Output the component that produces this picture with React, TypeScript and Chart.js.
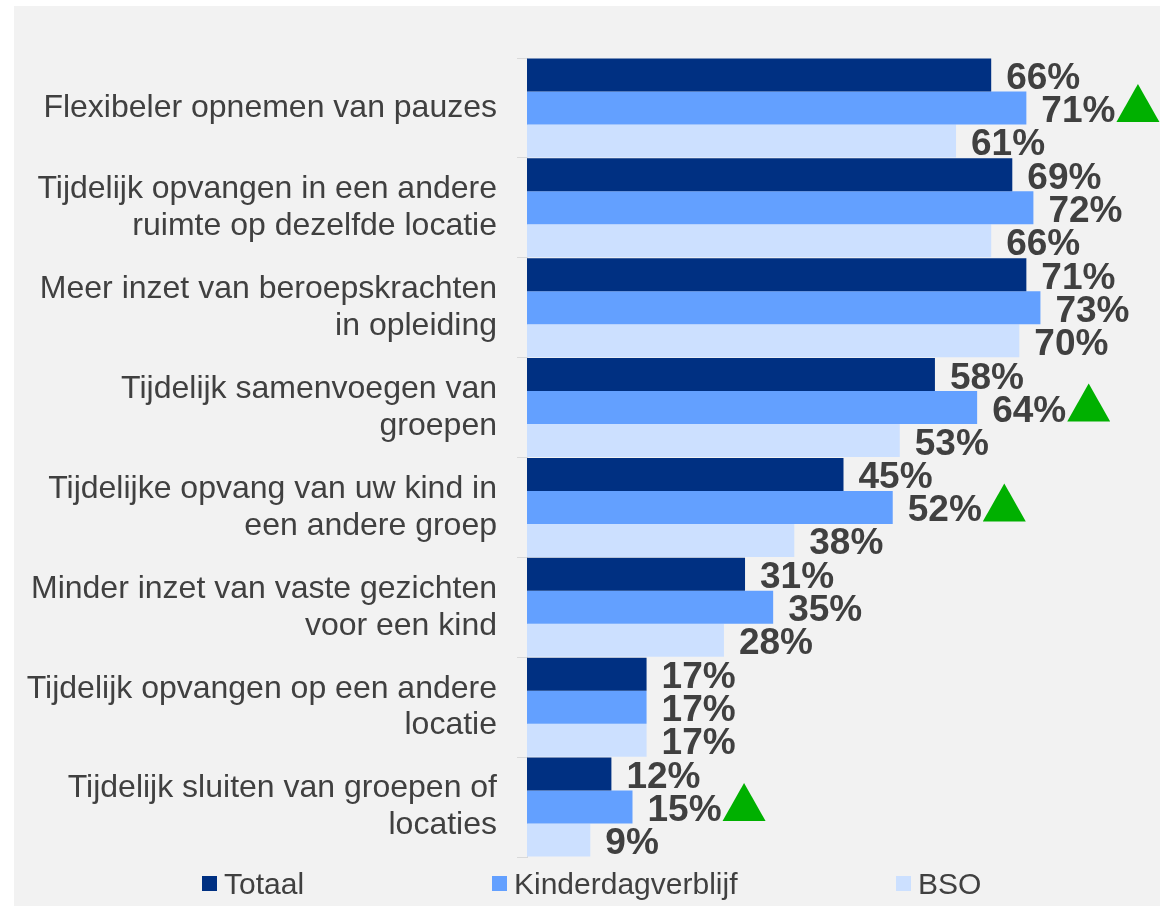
import React, { useEffect, useRef } from 'react';
import { Chart, registerables } from 'chart.js';
Chart.register(...registerables);

const categories: (string | string[])[] = [
  'Flexibeler opnemen van pauzes',
  ['Tijdelijk opvangen in een andere', 'ruimte op dezelfde locatie'],
  ['Meer inzet van beroepskrachten', 'in opleiding'],
  ['Tijdelijk samenvoegen van', 'groepen'],
  ['Tijdelijke opvang van uw kind in', 'een andere groep'],
  ['Minder inzet van vaste gezichten', 'voor een kind'],
  ['Tijdelijk opvangen op een andere', 'locatie'],
  ['Tijdelijk sluiten van groepen of', 'locaties'],
];
const totaal = [66, 69, 71, 58, 45, 31, 17, 12];
const kinderdagverblijf = [71, 72, 73, 64, 52, 35, 17, 15];
const bso = [61, 66, 70, 53, 38, 28, 17, 9];
const kdvSignificantUp = [true, false, false, true, true, false, false, true];
const seriesNames = ['Totaal', 'Kinderdagverblijf', 'BSO'];
const seriesColors = ['#003082', '#63a0ff', '#cce0ff'];
const legendPositions = [202, 492, 896];

const FONT = '"Liberation Sans", Arial, Helvetica, sans-serif';

const panelPlugin = {
  id: 'panelBg',
  beforeDraw(chart: any) {
    const ctx = chart.ctx;
    ctx.save();
    ctx.fillStyle = '#ffffff';
    ctx.fillRect(0, 0, chart.width, chart.height);
    ctx.fillStyle = '#f2f2f2';
    ctx.fillRect(14, 6, chart.width - 14, chart.height - 6);
    ctx.restore();
  },
};

const labelPlugin = {
  id: 'valueLabels',
  afterDatasetsDraw(chart: any) {
    const ctx = chart.ctx;
    ctx.save();
    chart.data.datasets.forEach((ds: any, i: number) => {
      const meta = chart.getDatasetMeta(i);
      meta.data.forEach((bar: any, j: number) => {
        const text = ds.data[j] + '%';
        ctx.font = `bold 37px ${FONT}`;
        ctx.fillStyle = '#404040';
        ctx.textAlign = 'left';
        ctx.textBaseline = 'alphabetic';
        const tx = bar.x + 15;
        const ty = bar.y + 14;
        ctx.fillText(text, tx, ty);
        if (i === 1 && kdvSignificantUp[j]) {
          const w = ctx.measureText(text).width;
          const left = tx + w + 1;
          ctx.fillStyle = '#00b000';
          ctx.beginPath();
          ctx.moveTo(left, ty);
          ctx.lineTo(left + 43, ty);
          ctx.lineTo(left + 21.5, ty - 38);
          ctx.closePath();
          ctx.fill();
        }
      });
    });
    ctx.restore();
  },
};

const legendPlugin = {
  id: 'customLegend',
  afterDraw(chart: any) {
    const ctx = chart.ctx;
    ctx.save();
    chart.data.datasets.forEach((ds: any, i: number) => {
      const x = legendPositions[i];
      ctx.fillStyle = ds.backgroundColor;
      ctx.fillRect(x, 876, 15, 15);
      ctx.fillStyle = '#404040';
      ctx.font = `30px ${FONT}`;
      ctx.textAlign = 'left';
      ctx.textBaseline = 'alphabetic';
      ctx.fillText(ds.label, x + 22, 894);
    });
    ctx.restore();
  },
};

export default function App() {
  const ref = useRef<HTMLCanvasElement | null>(null);
  useEffect(() => {
    if (!ref.current) return;
    const seriesData = [totaal, kinderdagverblijf, bso];
    const chart = new Chart(ref.current, {
      type: 'bar',
      data: {
        labels: categories,
        datasets: seriesNames.map((name, i) => ({
          label: name,
          data: seriesData[i],
          backgroundColor: seriesColors[i],
          borderWidth: 0,
          barPercentage: 1,
          categoryPercentage: 0.99,
        })),
      },
      options: {
        indexAxis: 'y',
        responsive: false,
        animation: false,
        devicePixelRatio: 1,
        layout: { padding: { top: 58, bottom: 49, left: 0, right: 0 } },
        plugins: {
          legend: { display: false },
          title: { display: false },
          tooltip: { enabled: false },
        },
        scales: {
          x: {
            display: false,
            min: 0,
            max: 90,
          },
          y: {
            type: 'category',
            afterFit(scale: any) {
              scale.width = 527;
            },
            grid: {
              offset: true,
              drawOnChartArea: false,
              drawTicks: true,
              tickLength: 10,
              color: '#d9d9d9',
              lineWidth: 1,
            },
            border: { display: true, color: '#d9d9d9', width: 1 },
            ticks: {
              autoSkip: false,
              padding: 20,
              color: '#404040',
              font: { size: 32, family: FONT, lineHeight: 1.15 },
            },
          },
        },
      } as any,
      plugins: [panelPlugin, labelPlugin, legendPlugin],
    });
    return () => chart.destroy();
  }, []);
  return (
    <div style={{ position: 'absolute', left: 0, top: 0, width: 1160, height: 906 }}>
      <canvas ref={ref} width={1160} height={906} style={{ display: 'block', width: 1160, height: 906 }} />
    </div>
  );
}
